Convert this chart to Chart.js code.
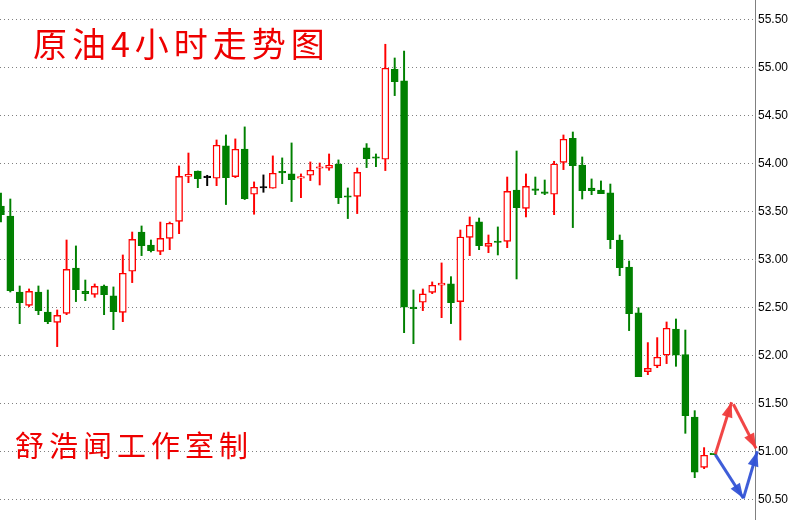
<!DOCTYPE html>
<html>
<head>
<meta charset="utf-8">
<script src="https://cdn.jsdelivr.net/npm/chart.js@4/dist/chart.umd.min.js"></script>
<style>
  html, body { margin: 0; padding: 0; background: #ffffff; }
  #wrap { width: 796px; height: 520px; position: relative; }
</style>
</head>
<body>
<div id="wrap"><canvas id="c" width="796" height="520"></canvas></div>
<script>
// ---- data (4-hour candles) ----
const candleIndex = Array.from({length: 77}, (_, i) => i);
const openPrices = [
  53.555, 53.451, 52.659, 52.520, 52.659, 52.451, 52.343, 52.437, 52.909, 52.666,
  52.635, 52.722, 52.618, 52.447, 52.875, 53.284, 53.149, 53.083, 53.218, 53.395,
  53.864, 53.920, 53.851, 53.844, 54.181, 53.861, 54.149, 53.677, 53.743, 53.740,
  53.906, 53.889, 53.844, 53.875, 53.948, 53.948, 53.993, 53.650, 53.656, 54.160,
  54.056, 54.042, 54.979, 54.858, 52.490, 52.552, 52.656, 52.729, 52.743, 52.559,
  53.229, 53.389, 53.135, 53.180, 53.187, 53.722, 53.531, 53.722, 53.701, 53.677,
  54.010, 54.260, 53.982, 53.743, 53.722, 53.691, 53.201, 52.920, 52.441, 51.830,
  51.889, 52.003, 52.274, 52.007, 51.357, 50.833, 50.970
];
const highPrices = [
  53.690, 53.628, 52.722, 52.691, 52.722, 52.680, 52.472, 53.201, 53.139, 52.784,
  52.743, 52.732, 52.712, 53.045, 53.284, 53.347, 53.201, 53.388, 53.388, 53.972,
  54.107, 53.920, 53.875, 54.243, 54.295, 54.254, 54.379, 53.806, 53.879, 54.077,
  54.056, 54.212, 53.889, 54.014, 54.003, 54.097, 54.035, 53.743, 53.951, 54.205,
  54.097, 55.240, 55.097, 55.170, 52.680, 52.691, 52.764, 52.962, 52.819, 53.305,
  53.441, 53.430, 53.253, 53.337, 53.857, 54.128, 53.889, 53.857, 53.826, 54.021,
  54.295, 54.326, 54.066, 53.837, 53.816, 53.784, 53.253, 52.982, 52.496, 52.132,
  52.184, 52.347, 52.378, 52.263, 51.423, 51.038, 50.970
];
const lowPrices = [
  53.390, 52.659, 52.329, 52.507, 52.423, 52.329, 52.090, 52.423, 52.559, 52.569,
  52.604, 52.423, 52.267, 52.350, 52.757, 53.038, 53.076, 53.048, 53.100, 53.267,
  53.798, 53.746, 53.767, 53.767, 53.570, 53.851, 53.622, 53.469, 53.698, 53.740,
  53.788, 53.601, 53.642, 53.820, 53.774, 53.927, 53.580, 53.424, 53.476, 53.955,
  53.965, 53.924, 54.705, 52.236, 52.121, 52.465, 52.642, 52.392, 52.330, 52.159,
  53.038, 53.100, 53.069, 53.045, 53.121, 52.795, 53.441, 53.673, 53.673, 53.465,
  53.934, 53.330, 53.628, 53.673, 53.684, 53.111, 52.829, 52.257, 51.777, 51.798,
  51.871, 51.913, 51.885, 51.187, 50.725, 50.819, 50.965
];
const closePrices = [
  53.465, 52.673, 52.548, 52.666, 52.465, 52.350, 52.416, 52.895, 52.684, 52.642,
  52.718, 52.632, 52.454, 52.854, 53.208, 53.142, 53.090, 53.218, 53.375, 53.864,
  53.885, 53.840, 53.851, 54.188, 53.851, 54.146, 53.632, 53.750, 53.743, 53.896,
  53.900, 53.830, 53.861, 53.927, 53.951, 53.979, 53.642, 53.646, 53.906, 54.049,
  54.052, 54.990, 54.851, 52.500, 52.486, 52.639, 52.729, 52.753, 52.548, 53.232,
  53.354, 53.142, 53.166, 53.175, 53.708, 53.538, 53.760, 53.718, 53.687, 53.993,
  54.250, 53.976, 53.715, 53.715, 53.684, 53.204, 52.913, 52.434, 51.777, 51.864,
  51.979, 52.281, 52.000, 51.371, 50.781, 50.958, 50.965
];
// forecast arrows (x in candle units, y price)
const redArrowUpX = [76.2, 77.93];
const redArrowUpY = [50.97, 51.51];
const redArrowDownX = [78.12, 80.54];
const redArrowDownY = [51.49, 51.03];
const blueArrowDownX = [76.2, 79.19];
const blueArrowDownY = [50.965, 50.51];
const blueArrowUpX = [79.19, 80.68];
const blueArrowUpY = [50.51, 51.0];
// axis
const yTickValues = [50.5, 51.0, 51.5, 52.0, 52.5, 53.0, 53.5, 54.0, 54.5, 55.0, 55.5];
const yRange = [50.284, 55.701];
const xRange = [-0.1, 80.43];
const titleText = '原油4小时走势图';
const signText = '舒浩闻工作室制';

// ---- styling ----
const UP = '#ff0000', DOWN = '#008000', FLAT = '#000000';
const candleColor = candleIndex.map(i =>
  closePrices[i] > openPrices[i] ? UP : (closePrices[i] < openPrices[i] ? DOWN : FLAT));
const bodyFill = candleIndex.map(i => closePrices[i] > openPrices[i] ? '#ffffff' : candleColor[i]);

const wickData = candleIndex.map(i => ({x: i, y: [lowPrices[i], highPrices[i]]}));
const bodyData = candleIndex.map(i => ({x: i, y: [Math.min(openPrices[i], closePrices[i]), Math.max(openPrices[i], closePrices[i])]}));
const toPts = (xs, ys) => xs.map((x, k) => ({x: x, y: ys[k]}));

const RED_ARROW = 'rgba(240,60,60,0.95)';
const BLUE_ARROW = 'rgba(52,84,214,0.95)';
function arrowDs(xs, ys, color) {
  return {
    type: 'line', data: toPts(xs, ys), borderColor: color, backgroundColor: color,
    borderWidth: 3, pointRadius: 0, clip: false, order: 0, arrowHead: true, tension: 0
  };
}

const arrowPlugin = {
  id: 'arrowHeads',
  afterDatasetsDraw(chart) {
    const ctx = chart.ctx;
    chart.data.datasets.forEach((ds, di) => {
      if (!ds.arrowHead) return;
      const pts = chart.getDatasetMeta(di).data;
      const a = pts[pts.length - 2], b = pts[pts.length - 1];
      const ang = Math.atan2(b.y - a.y, b.x - a.x);
      const L = 15, W = 5.5;
      ctx.save();
      ctx.fillStyle = ds.borderColor;
      ctx.beginPath();
      ctx.moveTo(b.x, b.y);
      ctx.lineTo(b.x - L * Math.cos(ang) + W * Math.sin(ang), b.y - L * Math.sin(ang) - W * Math.cos(ang));
      ctx.lineTo(b.x - L * Math.cos(ang) - W * Math.sin(ang), b.y - L * Math.sin(ang) + W * Math.cos(ang));
      ctx.closePath();
      ctx.fill();
      ctx.restore();
    });
  }
};

const textPlugin = {
  id: 'labels',
  afterDraw(chart) {
    const ctx = chart.ctx;
    ctx.save();
    ctx.fillStyle = '#ee0000';
    ctx.textBaseline = 'middle';
    ctx.textAlign = 'left';
    ctx.font = '34px "Noto Sans CJK SC"';
    ctx.letterSpacing = '5px';
    ctx.fillText(titleText, 33, 44);
    ctx.font = '29px "Noto Sans CJK SC"';
    ctx.letterSpacing = '5px';
    ctx.fillText(signText, 15, 446);
    ctx.restore();
  }
};

new Chart(document.getElementById('c'), {
  type: 'bar',
  data: {
    datasets: [
      {
        type: 'bar', data: bodyData, backgroundColor: bodyFill, borderColor: candleColor,
        borderWidth: 1.4, borderSkipped: false, barThickness: 7, grouped: false,
        minBarLength: 1.5, order: 1
      },
      {
        type: 'bar', data: wickData, backgroundColor: candleColor, borderWidth: 0,
        barThickness: 1.3, grouped: false, order: 2
      },
      arrowDs(redArrowUpX, redArrowUpY, RED_ARROW),
      arrowDs(redArrowDownX, redArrowDownY, RED_ARROW),
      arrowDs(blueArrowDownX, blueArrowDownY, BLUE_ARROW),
      arrowDs(blueArrowUpX, blueArrowUpY, BLUE_ARROW)
    ]
  },
  options: {
    responsive: false,
    animation: false,
    devicePixelRatio: 1,
    layout: { padding: 0 },
    plugins: { legend: { display: false }, tooltip: { enabled: false }, title: { display: false } },
    scales: {
      x: { type: 'linear', min: xRange[0], max: xRange[1], offset: false, display: false },
      y: {
        type: 'linear', position: 'right', min: yRange[0], max: yRange[1],
        afterFit(scale) { scale.width = 41; scale.paddingTop = 0; scale.paddingBottom = 0; },
        afterBuildTicks(scale) { scale.ticks = yTickValues.map(v => ({value: v})); },
        grid: { color: '#808080', lineWidth: 1, drawTicks: false },
        border: { display: true, color: '#808080', width: 1, dash: [1, 3] },
        ticks: {
          padding: 3, color: '#000000',
          font: { family: '"Liberation Sans", Arial, sans-serif', size: 12 },
          callback: v => Number(v).toFixed(2)
        }
      }
    }
  },
  plugins: [arrowPlugin, textPlugin]
});
</script>
</body>
</html>
